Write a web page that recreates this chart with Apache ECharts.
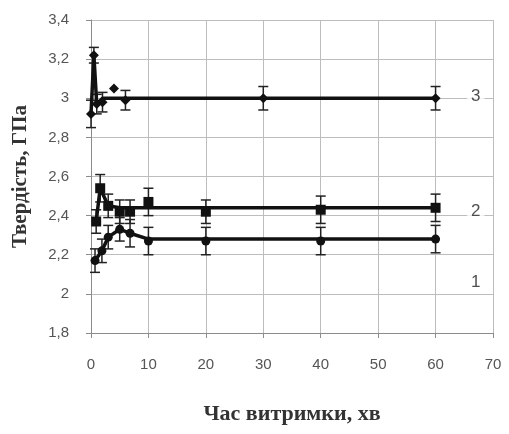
<!DOCTYPE html>
<html>
<head>
<meta charset="utf-8">
<script src="https://cdn.jsdelivr.net/npm/echarts@6/dist/echarts.min.js"></script>
<style>
  html, body { margin: 0; padding: 0; background: #fff; }
  #chart { width: 509px; height: 434px; }
</style>
</head>
<body>
<div id="chart"></div>
<script>
// виміряні точки: [час, твердість] та похибки
var points3 = [[0, 2.92], [0.5, 3.22], [1, 2.97], [2, 2.98], [4, 3.05], [6, 2.99], [30, 3.0], [60, 3.0]];
var err3 = [0.07, 0.04, 0.05, 0.05, 0.0, 0.05, 0.06, 0.06];

var points2 = [[0.9, 2.37], [1.6, 2.54], [3, 2.45], [5, 2.42], [6.8, 2.42], [10, 2.47], [20, 2.42], [40, 2.43], [60, 2.44]];
var err2 = [0.06, 0.07, 0.06, 0.06, 0.06, 0.07, 0.06, 0.07, 0.07];

var points1 = [[0.7, 2.17], [1.9, 2.22], [3, 2.29], [5, 2.33], [6.8, 2.31], [10, 2.27], [20, 2.27], [40, 2.27], [60, 2.28]];
var err1 = [0.06, 0.06, 0.06, 0.06, 0.07, 0.07, 0.07, 0.07, 0.07];

// лінії кривих (початок + рівень насичення)
var line3 = [[0, 2.92], [0.5, 3.22], [1, 2.97], [2, 3.0], [60, 3.0]];
var line2 = [[0.9, 2.37], [1.6, 2.54], [3, 2.45], [5, 2.44], [60, 2.44]];
var line1 = [[0.7, 2.17], [1.9, 2.22], [3, 2.29], [5, 2.33], [6.8, 2.31], [10, 2.28], [60, 2.28]];

// підписи кривих справа
var curveLabels = [[67, 3.01, '3'], [67, 2.42, '2'], [67, 2.06, '1']];

var chart = echarts.init(document.getElementById('chart'));

function errData(points, err) {
    var out = [];
    for (var i = 0; i < points.length; i++) {
        if (err[i] > 0) out.push([points[i][0], points[i][1] - err[i], points[i][1] + err[i]]);
    }
    return out;
}

function renderErr(params, api) {
    var x = api.value(0);
    var lo = api.coord([x, api.value(1)]);
    var hi = api.coord([x, api.value(2)]);
    var w = 5;
    var st = { stroke: '#222', lineWidth: 1.5 };
    return {
        type: 'group',
        children: [
            { type: 'line', shape: { x1: hi[0], y1: hi[1], x2: lo[0], y2: lo[1] }, style: st },
            { type: 'line', shape: { x1: hi[0] - w, y1: hi[1], x2: hi[0] + w, y2: hi[1] }, style: st },
            { type: 'line', shape: { x1: lo[0] - w, y1: lo[1], x2: lo[0] + w, y2: lo[1] }, style: st }
        ]
    };
}

function lineSeries(data) {
    return {
        type: 'line',
        data: data,
        symbol: 'none',
        lineStyle: { color: '#111', width: 3.5 },
        z: 3,
        animation: false
    };
}

function markSeries(data, symbol, size) {
    return {
        type: 'scatter',
        data: data,
        symbol: symbol,
        symbolSize: size,
        itemStyle: { color: '#111', opacity: 1 },
        z: 4,
        animation: false
    };
}

function errSeries(points, err) {
    return {
        type: 'custom',
        renderItem: renderErr,
        data: errData(points, err),
        encode: { x: 0, y: [1, 2] },
        z: 2,
        animation: false
    };
}

var option = {
    animation: false,
    grid: { left: 91, right: 16, top: 20, bottom: 101 },
    xAxis: {
        type: 'value',
        min: 0, max: 70, interval: 10,
        name: 'Час витримки, хв',
        nameLocation: 'middle',
        nameGap: 70,
        nameTextStyle: { fontFamily: 'Liberation Serif', fontWeight: 'bold', fontSize: 22, color: '#333' },
        axisLine: { lineStyle: { color: '#8c8c8c' } },
        axisTick: { show: true, length: 5, lineStyle: { color: '#8c8c8c' } },
        axisLabel: { margin: 24, fontFamily: 'Liberation Sans', fontSize: 15, color: '#555' },
        splitLine: { show: true, lineStyle: { color: '#bdbdbd' } }
    },
    yAxis: {
        type: 'value',
        min: 1.8, max: 3.4, interval: 0.2,
        name: 'Твердість, ГПа',
        nameLocation: 'middle',
        nameGap: 60,
        nameTextStyle: { fontFamily: 'Liberation Serif', fontWeight: 'bold', fontSize: 21, color: '#333' },
        axisLine: { show: true, lineStyle: { color: '#8c8c8c' } },
        axisTick: { show: true, length: 5, lineStyle: { color: '#8c8c8c' } },
        axisLabel: {
            margin: 22, fontFamily: 'Liberation Sans', fontSize: 15, color: '#555',
            formatter: function (v) { return String(+v.toFixed(1)).replace('.', ','); }
        },
        splitLine: { show: true, lineStyle: { color: '#bdbdbd' } }
    },
    series: [
        errSeries(points3, err3),
        errSeries(points2, err2),
        errSeries(points1, err1),
        lineSeries(line3),
        lineSeries(line2),
        lineSeries(line1),
        markSeries(points3, 'diamond', 10),
        markSeries(points2, 'rect', 10),
        markSeries(points1, 'circle', 9),
        {
            type: 'scatter',
            data: curveLabels,
            symbolSize: 0,
            label: {
                show: true,
                position: 'inside',
                formatter: function (p) { return p.data[2]; },
                fontFamily: 'Liberation Sans',
                fontSize: 17,
                color: '#222',
                backgroundColor: '#fff',
                padding: [2, 4]
            },
            z: 5,
            animation: false
        }
    ]
};

chart.setOption(option);
</script>
</body>
</html>
